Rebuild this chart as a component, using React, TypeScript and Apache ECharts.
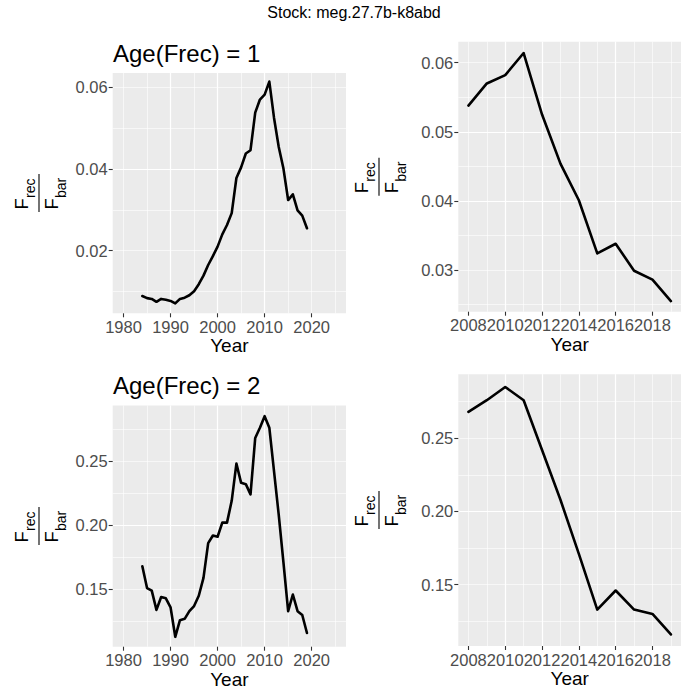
import React, { useEffect, useRef } from "react";
import * as echarts from "echarts";

// ---------- data ----------
const years = [
  1984, 1985, 1986, 1987, 1988, 1989, 1990, 1991, 1992, 1993, 1994, 1995,
  1996, 1997, 1998, 1999, 2000, 2001, 2002, 2003, 2004, 2005, 2006, 2007,
  2008, 2009, 2010, 2011, 2012, 2013, 2014, 2015, 2016, 2017, 2018, 2019,
];
const age1Ratio = [
  0.0089, 0.0084, 0.0082, 0.0075, 0.0082, 0.008, 0.0077, 0.0071, 0.0082, 0.0085,
  0.0091, 0.0101, 0.0118, 0.0139, 0.0165, 0.0187, 0.021, 0.024, 0.0263, 0.0292,
  0.0378, 0.0404, 0.0438, 0.0446, 0.0538, 0.057, 0.0582, 0.0614, 0.0525, 0.0454,
  0.0401, 0.0324, 0.0338, 0.0299, 0.0286, 0.0255,
];
const age2Ratio = [
  0.168, 0.151, 0.149, 0.134, 0.144, 0.143, 0.136, 0.113, 0.126, 0.127, 0.133,
  0.137, 0.145, 0.159, 0.186, 0.192, 0.191, 0.202, 0.202, 0.219, 0.248, 0.233,
  0.232, 0.224, 0.268, 0.276, 0.285, 0.276, 0.242, 0.208, 0.171, 0.133, 0.146,
  0.133, 0.13, 0.116,
];
const recentFromYear = 2008;

const fullYearTicks = [1980, 1990, 2000, 2010, 2020];
const recentYearTicks = [2008, 2010, 2012, 2014, 2016, 2018];
const age1FullTicks = [0.02, 0.04, 0.06];
const age1RecentTicks = [0.03, 0.04, 0.05, 0.06];
const age2Ticks = [0.15, 0.2, 0.25];

const stockTitle = "Stock: meg.27.7b-k8abd";
const ageTitles = ["Age(Frec) = 1", "Age(Frec) = 2"];
const xName = "Year";

// ---------- helpers ----------
const FONT = '"Liberation Sans", Arial, Helvetica, sans-serif';

function pairs(xs: number[], ys: number[], from?: number) {
  const out: number[][] = [];
  xs.forEach((x, i) => {
    if (from === undefined || x >= from) out.push([x, ys[i]]);
  });
  return out;
}

function fraction(cx: number, cy: number) {
  const txt = (x: number, y: number, text: string, size: number) => ({
    type: "text",
    x,
    y,
    silent: true,
    style: {
      text,
      fontSize: size,
      fontFamily: FONT,
      fill: "#000",
      align: "left",
      verticalAlign: "middle",
    },
  });
  return {
    type: "group",
    x: cx,
    y: cy,
    rotation: Math.PI / 2,
    silent: true,
    children: [
      txt(-16.5, -17.5, "F", 18.5),
      txt(-5, -8.8, "rec", 14),
      {
        type: "line",
        silent: true,
        shape: { x1: -19, y1: 0, x2: 19, y2: 0 },
        style: { stroke: "#000", lineWidth: 1.1 },
      },
      txt(-16.5, 12, "F", 18.5),
      txt(-5, 21.6, "bar", 14),
    ],
  };
}

export default function App() {
  const ref = useRef<HTMLDivElement>(null);

  useEffect(() => {
    if (!ref.current) return;
    const chart = echarts.init(ref.current, undefined, { renderer: "svg" });

    const panels = [
      {
        grid: { left: 112.7, top: 73, width: 233.3, height: 240.3 },
        x: [1977.7, 2027.3],
        xMajor: 10,
        xTicks: fullYearTicks,
        y: [0.00468, 0.0635],
        yMajor: 0.02,
        yTicks: age1FullTicks,
        data: pairs(years, age1Ratio),
        lab: [39, 193],
      },
      {
        grid: { left: 458.3, top: 41.7, width: 232.8, height: 270 },
        x: [2007.45, 2019.55],
        xMajor: 2,
        xTicks: recentYearTicks,
        y: [0.02397, 0.06304],
        yMajor: 0.01,
        yTicks: age1RecentTicks,
        data: pairs(years, age1Ratio, recentFromYear),
        lab: [379, 176.7],
      },
      {
        grid: { left: 112.7, top: 405.5, width: 233.3, height: 241.2 },
        x: [1977.7, 2027.3],
        xMajor: 10,
        xTicks: fullYearTicks,
        y: [0.1053, 0.2933],
        yMajor: 0.05,
        yTicks: age2Ticks,
        data: pairs(years, age2Ratio),
        lab: [39, 526],
      },
      {
        grid: { left: 458.3, top: 374.3, width: 232.8, height: 271.7 },
        x: [2007.45, 2019.55],
        xMajor: 2,
        xTicks: recentYearTicks,
        y: [0.1081, 0.2937],
        yMajor: 0.05,
        yTicks: age2Ticks,
        data: pairs(years, age2Ratio, recentFromYear),
        lab: [379, 510],
      },
    ];

    const grid: any[] = [];
    const xAxis: any[] = [];
    const yAxis: any[] = [];
    const series: any[] = [];

    panels.forEach((p, i) => {
      grid.push({
        ...p.grid,
        show: true,
        backgroundColor: "#EBEBEB",
        borderWidth: 0,
        containLabel: false,
      });
      const major = (
        type: "x" | "y",
        min: number,
        max: number,
        iv: number,
        ticks: number[]
      ) => ({
        type: "value",
        gridIndex: i,
        min,
        max,
        minInterval: iv,
        maxInterval: iv,
        z: 1,
        axisLine: { show: false },
        axisTick: {
          show: true,
          length: 4,
          customValues: ticks,
          lineStyle: { color: "#333333", width: 1.1 },
        },
        axisLabel: {
          show: true,
          customValues: ticks,
          color: "#4D4D4D",
          fontSize: 16.5,
          fontFamily: FONT,
          margin: 5,
          formatter: (v: number) =>
            type === "x" ? String(Math.round(v)) : v.toFixed(2),
        },
        splitLine: {
          show: true,
          showMinLine: false,
          showMaxLine: false,
          lineStyle: { color: "#FFFFFF", width: 1.2 },
        },
        ...(type === "x"
          ? {
              name: xName,
              nameLocation: "middle",
              nameGap: 23,
              nameTextStyle: { color: "#000", fontSize: 19, fontFamily: FONT },
            }
          : {}),
      });
      const minor = (min: number, max: number, iv: number) => ({
        type: "value",
        gridIndex: i,
        min,
        max,
        minInterval: iv,
        maxInterval: iv,
        z: 0,
        axisLine: { show: false },
        axisTick: { show: false },
        axisLabel: { show: false },
        splitLine: {
          show: true,
          showMinLine: false,
          showMaxLine: false,
          lineStyle: { color: "#FFFFFF", width: 0.6 },
        },
      });
      xAxis.push(major("x", p.x[0], p.x[1], p.xMajor, p.xTicks));
      xAxis.push(minor(p.x[0], p.x[1], p.xMajor / 2));
      yAxis.push(major("y", p.y[0], p.y[1], p.yMajor, p.yTicks));
      yAxis.push(minor(p.y[0], p.y[1], p.yMajor / 2));
      series.push({
        type: "line",
        xAxisIndex: 2 * i,
        yAxisIndex: 2 * i,
        data: p.data,
        showSymbol: false,
        symbol: "none",
        silent: true,
        z: 5,
        lineStyle: { color: "#000000", width: 2.6, join: "round", cap: "round" },
      });
    });

    const graphic: any[] = [
      {
        type: "text",
        x: 354,
        y: 12,
        silent: true,
        style: {
          text: stockTitle,
          fontSize: 16,
          fontFamily: FONT,
          fill: "#000",
          align: "center",
          verticalAlign: "middle",
        },
      },
      {
        type: "text",
        x: 113,
        y: 53,
        silent: true,
        style: {
          text: ageTitles[0],
          fontSize: 24,
          fontFamily: FONT,
          fill: "#000",
          align: "left",
          verticalAlign: "middle",
        },
      },
      {
        type: "text",
        x: 113,
        y: 385,
        silent: true,
        style: {
          text: ageTitles[1],
          fontSize: 24,
          fontFamily: FONT,
          fill: "#000",
          align: "left",
          verticalAlign: "middle",
        },
      },
      ...panels.map((p) => fraction(p.lab[0], p.lab[1])),
    ];

    chart.setOption({
      animation: false,
      backgroundColor: "#FFFFFF",
      grid,
      xAxis,
      yAxis,
      series,
      graphic,
    });

    return () => chart.dispose();
  }, []);

  return (
    <div
      ref={ref}
      style={{ position: "absolute", left: 0, top: 0, width: 681, height: 691 }}
    />
  );
}
